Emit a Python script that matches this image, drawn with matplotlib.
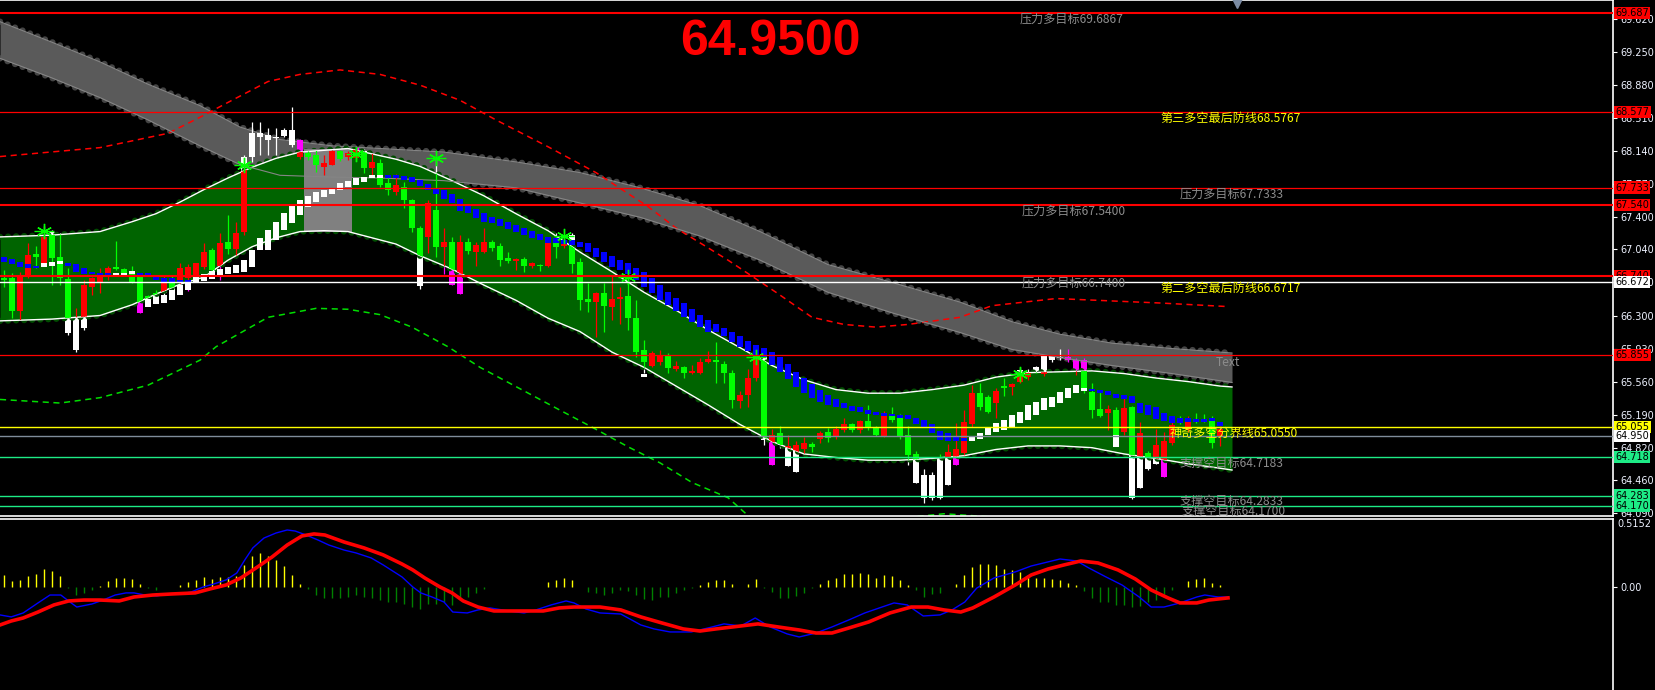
import matplotlib
matplotlib.use("Agg")
import matplotlib.pyplot as plt
import matplotlib.transforms as mtransforms
from matplotlib.patches import Rectangle
import numpy as np

plt.rcParams['font.family'] = ['Noto Sans CJK SC', 'DejaVu Sans']

# ---------------- price bars (index = bar number) ----------------
opens = [66.70, 66.35, 66.74, 66.98, 66.95, 67.18, 66.94, 66.72, 66.10, 66.27,
         66.64, 66.72, 66.78, 66.83, 66.82, 66.78, 66.68, 66.33, 66.47, 66.50,
         66.67, 66.56, 66.83, 66.84, 66.89, 67.01, 66.81, 67.11, 67.04, 67.22,
         68.07, 68.07, 68.34, 68.27, 68.29, 68.31, 68.38, 68.27, 68.07, 67.99,
         68.01, 68.14, 68.05, 68.12, 68.18, 67.95, 68.02, 67.76, 67.70, 67.76,
         67.59, 67.28, 66.63, 67.56, 67.07, 67.12, 66.64, 67.12, 67.02, 67.09,
         67.12, 67.06, 66.92, 66.91, 66.93, 66.85, 66.89, 66.85, 67.12, 67.07,
         67.10, 66.88, 66.47, 66.45, 66.55, 66.41, 66.49, 66.51, 66.27, 65.89,
         65.78, 65.88, 65.86, 65.71, 65.74, 65.66, 65.68, 65.78, 65.81, 65.78,
         65.66, 65.35, 65.41, 65.60, 65.83, 64.91, 64.96, 64.85, 64.84, 64.85,
         64.87, 64.83, 64.98, 64.93, 65.03, 65.09, 65.02, 65.12, 65.05, 64.96,
         65.21, 65.13, 64.94, 64.74, 64.43, 64.51, 64.26, 64.26, 64.77, 64.81,
         65.11, 65.43, 65.27, 65.22, 65.46, 65.49, 65.53, 65.69, 65.66, 65.68,
         65.85, 65.80, 65.82, 65.84, 65.80, 65.46, 65.24, 65.18, 65.25, 64.96,
         65.26, 64.26, 64.99, 64.58, 64.85, 64.89, 65.07, 65.10, 65.15, 65.12,
         65.12, 64.87, 65.03]
highs = [66.81, 66.78, 66.79, 67.11, 67.08, 67.30, 67.26, 67.22, 66.83, 66.38,
         66.70, 66.73, 66.83, 66.85, 67.13, 66.83, 66.86, 66.74, 66.53, 66.59,
         66.75, 66.75, 66.89, 66.88, 66.89, 67.11, 67.06, 67.22, 67.43, 67.35,
         68.10, 68.47, 68.47, 68.40, 68.40, 68.40, 68.63, 68.28, 68.16, 68.15,
         68.10, 68.15, 68.15, 68.14, 68.20, 68.16, 68.12, 68.05, 67.85, 67.89,
         67.80, 67.60, 67.30, 67.59, 68.06, 67.28, 67.18, 67.20, 67.17, 67.12,
         67.28, 67.14, 67.11, 67.01, 66.94, 66.95, 66.90, 66.88, 67.13, 67.22,
         67.18, 67.22, 66.94, 66.66, 66.56, 66.66, 66.75, 66.62, 66.75, 66.47,
         66.03, 65.90, 65.91, 65.88, 65.79, 65.74, 65.75, 65.82, 65.90, 66.00,
         65.79, 65.69, 65.46, 65.70, 65.92, 65.85, 65.03, 65.06, 64.96, 64.89,
         64.94, 64.88, 65.01, 65.04, 65.06, 65.15, 65.10, 65.13, 65.30, 65.06,
         65.23, 65.27, 65.20, 65.06, 64.78, 64.58, 64.55, 64.75, 64.86, 65.10,
         65.24, 65.52, 65.54, 65.41, 65.49, 65.60, 65.54, 65.71, 65.70, 65.74,
         65.86, 65.86, 65.92, 65.93, 65.82, 65.82, 65.54, 65.46, 65.30, 65.27,
         65.38, 65.29, 65.11, 64.78, 65.03, 65.00, 65.12, 65.17, 65.18, 65.21,
         65.20, 65.17, 65.06]
lows = [66.62, 66.27, 66.25, 66.72, 66.83, 66.86, 66.64, 66.64, 66.08, 65.89,
        66.14, 66.53, 66.55, 66.70, 66.81, 66.75, 66.66, 66.33, 66.46, 66.47,
        66.50, 66.55, 66.61, 66.58, 66.67, 66.82, 66.78, 66.70, 66.99, 66.94,
        67.20, 68.02, 68.10, 68.10, 68.10, 68.30, 68.19, 68.05, 68.04, 67.91,
        67.87, 67.99, 68.03, 68.04, 68.04, 67.90, 67.87, 67.74, 67.65, 67.65,
        67.50, 67.23, 66.60, 67.00, 66.95, 66.76, 66.64, 66.54, 66.99, 66.86,
        67.00, 67.02, 66.86, 66.89, 66.81, 66.79, 66.83, 66.80, 66.84, 66.94,
        67.06, 66.78, 66.36, 66.34, 66.06, 66.11, 66.25, 66.21, 66.14, 65.84,
        65.66, 65.72, 65.75, 65.66, 65.68, 65.60, 65.65, 65.65, 65.77, 65.54,
        65.54, 65.26, 65.26, 65.28, 65.57, 64.85, 64.63, 64.82, 64.62, 64.55,
        64.76, 64.77, 64.87, 64.88, 64.92, 65.00, 65.00, 64.99, 65.02, 64.95,
        64.94, 65.11, 64.92, 64.63, 64.43, 64.20, 64.23, 64.25, 64.40, 64.63,
        64.74, 65.05, 65.24, 65.21, 65.15, 65.40, 65.41, 65.54, 65.58, 65.66,
        65.62, 65.78, 65.80, 65.78, 65.63, 65.43, 65.15, 65.16, 65.02, 64.96,
        64.96, 64.25, 64.37, 64.57, 64.64, 64.49, 64.85, 65.08, 65.00, 65.10,
        65.11, 64.82, 64.84]
closes = [66.72, 66.72, 66.35, 66.73, 66.99, 66.89, 67.23, 66.95, 66.71, 65.91,
          66.16, 66.62, 66.66, 66.75, 66.84, 66.82, 66.80, 66.73, 66.52, 66.55,
          66.55, 66.72, 66.70, 66.72, 66.73, 66.84, 67.03, 66.86, 67.12, 67.04,
          67.23, 68.34, 68.30, 68.32, 68.30, 68.38, 68.21, 68.07, 68.12, 68.10,
          67.96, 67.99, 68.14, 68.07, 68.06, 68.14, 67.95, 68.01, 67.78, 67.68,
          67.74, 67.59, 67.28, 67.18, 67.48, 67.07, 67.12, 66.54, 67.12, 67.01,
          67.01, 67.12, 67.08, 66.94, 66.91, 66.93, 66.85, 66.87, 66.85, 67.11,
          67.08, 67.20, 66.90, 66.49, 66.45, 66.55, 66.39, 66.49, 66.52, 66.27,
          65.91, 65.73, 65.78, 65.85, 65.70, 65.72, 65.66, 65.66, 65.78, 65.80,
          65.76, 65.66, 65.34, 65.41, 65.60, 65.83, 64.63, 64.98, 64.62, 64.55,
          64.80, 64.86, 64.92, 65.00, 64.94, 65.02, 65.08, 65.02, 65.12, 65.04,
          64.94, 65.18, 65.15, 64.96, 64.75, 64.26, 64.51, 64.71, 64.40, 64.63,
          64.76, 65.09, 65.43, 65.39, 65.32, 65.51, 65.50, 65.56, 65.61, 65.72,
          65.64, 65.85, 65.84, 65.80, 65.69, 65.80, 65.44, 65.25, 65.21, 65.24,
          65.00, 65.28, 64.37, 64.76, 64.64, 64.49, 64.87, 65.14, 65.02, 65.14,
          65.14, 65.15, 64.95]
# bars whose part outside the channel is painted magenta (others white)
magenta_bars = [17, 23, 27, 29, 37, 38, 44, 55, 56, 57, 96, 119, 120, 133, 134, 135, 145]

# ---------------- channel (green) ----------------
band_x = [-0.5, 6, 12, 16, 19, 22, 25, 28, 31, 34, 37, 40, 43, 46, 49, 52, 56, 60, 64, 68,
          72, 76, 80, 84, 88, 92, 96, 100, 104, 108, 112, 116, 120, 124, 128, 132, 136, 140,
          144, 148, 152, 153.5]
band_up = [67.18, 67.20, 67.24, 67.35, 67.44, 67.57, 67.71, 67.84, 67.96, 68.06, 68.13, 68.15,
           68.17, 68.11, 68.05, 67.97, 67.81, 67.64, 67.44, 67.25, 67.01, 66.79, 66.56, 66.36,
           66.14, 65.94, 65.74, 65.58, 65.47, 65.43, 65.43, 65.47, 65.52, 65.61, 65.66, 65.67,
           65.68, 65.65, 65.60, 65.56, 65.51, 65.50]
band_dn = [66.24, 66.26, 66.30, 66.42, 66.54, 66.65, 66.73, 66.92, 67.07, 67.17, 67.24, 67.25,
           67.24, 67.17, 67.10, 66.97, 66.82, 66.64, 66.47, 66.27, 66.12, 65.89, 65.72, 65.51,
           65.30, 65.08, 64.89, 64.75, 64.71, 64.68, 64.68, 64.70, 64.73, 64.80, 64.84, 64.84,
           64.82, 64.75, 64.70, 64.64, 64.59, 64.57]

# ---------------- gray band ----------------
gray_x = [-0.5, 6, 12, 18, 24.5, 29.5, 34.5, 41, 47, 55, 64, 72, 79.5, 87, 94.5, 103, 111,
          119.5, 126, 132, 138.5, 146, 153.5]
gray_top = [69.59, 69.36, 69.14, 68.89, 68.65, 68.41, 68.27, 68.20, 68.17, 68.13, 68.02, 67.90,
            67.73, 67.53, 67.24, 66.87, 66.67, 66.45, 66.23, 66.09, 65.99, 65.93, 65.88]
gray_bot = [69.18, 68.96, 68.74, 68.49, 68.20, 67.99, 67.87, 67.85, 67.84, 67.81, 67.73, 67.56,
            67.40, 67.19, 66.92, 66.56, 66.33, 66.11, 65.92, 65.83, 65.74, 65.65, 65.55]

# ---------------- dashed envelopes ----------------
env_hi_x = [-0.5, 12, 20.5, 24.5, 28.5, 33, 37, 42, 47, 52, 57, 61.5, 68, 74, 80.5, 84, 90.5,
            96.5, 101, 105, 109, 113, 119.5, 123.5, 131.5, 144.5, 153]
env_hi = [68.08, 68.18, 68.34, 68.52, 68.71, 68.92, 69.00, 69.05, 69.00, 68.88, 68.71, 68.49,
          68.19, 67.90, 67.52, 67.28, 66.92, 66.56, 66.28, 66.20, 66.17, 66.20, 66.28, 66.41,
          66.49, 66.44, 66.40]
env_lo_x = [-0.5, 7, 12, 18, 24.5, 26.5, 33, 39, 43, 47, 51, 55.5, 59.5, 69.5, 73.5, 78, 82,
            86, 90.5, 93, 94.5, 105.5, 112, 117.5, 122.5, 131, 143, 153]
env_lo = [65.36, 65.32, 65.38, 65.52, 65.80, 65.95, 66.28, 66.38, 66.37, 66.31, 66.17, 65.95,
          65.72, 65.24, 65.05, 64.83, 64.65, 64.43, 64.26, 64.06, 63.99, 63.92, 64.03, 64.08,
          64.05, 64.01, 63.97, 63.95]

# ---------------- stop blocks ----------------
blue_idx = list(range(0, 5)) + list(range(8, 14)) + list(range(17, 24)) + \
    list(range(48, 121)) + list(range(136, 153))
blue_hi = [66.95, 66.93, 66.90, 66.88, 66.86,
           66.89, 66.88, 66.83, 66.79, 66.78, 66.78,
           66.78, 66.78, 66.73, 66.72, 66.72, 66.70, 66.70,
           67.87, 67.87, 67.86, 67.85, 67.82, 67.77, 67.73, 67.71, 67.66, 67.61,
           67.54, 67.49, 67.45, 67.40, 67.38, 67.35, 67.31, 67.28, 67.25, 67.21,
           67.18, 67.17, 67.15, 67.14, 67.12, 67.11, 67.06, 67.01, 66.97, 66.92,
           66.89, 66.83, 66.79, 66.72, 66.64, 66.56, 66.50, 66.44, 66.37, 66.31,
           66.25, 66.21, 66.16, 66.12, 66.07, 66.02, 65.97, 65.94, 65.89, 65.84,
           65.76, 65.67, 65.60, 65.53, 65.47, 65.41, 65.37, 65.32, 65.29, 65.27,
           65.24, 65.22, 65.21, 65.20, 65.19, 65.19, 65.15, 65.13, 65.08, 65.01,
           64.99, 64.94, 64.93,
           65.48, 65.47, 65.46, 65.42, 65.41, 65.40, 65.32, 65.30, 65.27, 65.21,
           65.18, 65.15, 65.15, 65.14, 65.14, 65.15, 65.11]
blue_lo = [66.90, 66.88, 66.84, 66.83, 66.83,
           66.86, 66.79, 66.76, 66.76, 66.73, 66.74,
           66.73, 66.73, 66.70, 66.68, 66.68, 66.67, 66.67,
           67.84, 67.84, 67.82, 67.79, 67.75, 67.70, 67.66, 67.61, 67.56, 67.47,
           67.45, 67.39, 67.35, 67.34, 67.30, 67.27, 67.24, 67.20, 67.17, 67.14,
           67.11, 67.11, 67.10, 67.09, 67.07, 67.01, 66.96, 66.90, 66.84, 66.81,
           66.77, 66.70, 66.62, 66.55, 66.47, 66.42, 66.35, 66.28, 66.23, 66.17,
           66.12, 66.11, 66.07, 66.00, 65.95, 65.90, 65.86, 65.84, 65.75, 65.67,
           65.59, 65.50, 65.43, 65.38, 65.33, 65.30, 65.28, 65.26, 65.23, 65.22,
           65.20, 65.19, 65.18, 65.17, 65.15, 65.14, 65.09, 65.04, 64.98, 64.91,
           64.89, 64.89, 64.90,
           65.45, 65.43, 65.41, 65.38, 65.36, 65.32, 65.21, 65.19, 65.14, 65.12,
           65.10, 65.10, 65.11, 65.11, 65.11, 65.12, 65.06]

white_idx = [5, 6, 7, 14, 15, 16] + list(range(18, 48)) + [80] + list(range(121, 136)) + [139]
white_hi = [66.89, 66.90, 66.91, 66.78, 66.78, 66.80,
            66.49, 66.51, 66.53, 66.59, 66.64, 66.68, 66.73, 66.76, 66.80, 66.82,
            66.84, 66.87, 66.92, 67.03, 67.17, 67.26, 67.35, 67.45, 67.54, 67.59,
            67.64, 67.68, 67.71, 67.73, 67.78, 67.81, 67.84, 67.85, 67.87, 67.87,
            65.65,
            64.95, 64.98, 65.04, 65.10, 65.13, 65.19, 65.22, 65.30, 65.33, 65.38,
            65.39, 65.44, 65.49, 65.52, 65.49,
            64.96]
white_lo = [66.84, 66.86, 66.88, 66.74, 66.74, 66.77,
            66.40, 66.43, 66.44, 66.47, 66.53, 66.59, 66.67, 66.69, 66.71, 66.73,
            66.76, 66.78, 66.79, 66.84, 67.03, 67.03, 67.15, 67.26, 67.34, 67.43,
            67.52, 67.57, 67.63, 67.66, 67.70, 67.74, 67.76, 67.80, 67.84, 67.84,
            65.61,
            64.90, 64.92, 64.96, 65.00, 65.02, 65.05, 65.10, 65.13, 65.19, 65.24,
            65.27, 65.32, 65.38, 65.43, 65.45,
            64.83]

star_idx = [5, 30, 44, 54, 70, 78, 94, 127]
star_y = [67.25, 67.99, 68.11, 68.06, 67.19, 66.73, 65.83, 65.64]

# ---------------- horizontal levels ----------------
level_vals = [69.687, 68.577, 67.733, 67.540, 66.740, 66.672, 65.855, 65.055, 64.950, 64.718, 64.283, 64.170]
level_cols = ['#FF0000', '#FF0000', '#FF0000', '#FF0000', '#FF0000', '#FFFFFF', '#FF0000',
              '#FFFF00', '#7F8C9A', '#1DEB86', '#1DEB86', '#1DEB86']
level_lw = [1.5, 0.9, 0.9, 1.5, 1.5, 1.0, 0.9, 1.0, 1.0, 1.0, 1.0, 1.0]
box_cols = ['#FF0000', '#FF0000', '#FF0000', '#FF0000', '#FF0000', '#FFFFFF', '#FF0000',
            '#FFFF00', '#FFFFFF', '#1DEB86', '#1DEB86', '#1DEB86']
price_ticks = [69.62, 69.25, 68.88, 68.51, 68.14, 67.77, 67.40, 67.04, 66.67, 66.30,
               65.93, 65.56, 65.19, 64.82, 64.46, 64.09]

notes = ['压力多目标69.6867', '第三多空最后防线68.5767', '压力多目标67.7333', '压力多目标67.5400',
         '压力多目标66.7400', '第二多空最后防线66.6717', 'Text', '神奇多空分界线65.0550',
         '支撑空目标64.7183', '支撑空目标64.2833', '支撑空目标64.1700']
note_x = [126.9, 144.5, 146.9, 127.25, 127.25, 144.5, 151.5, 145.75, 146.9, 146.9, 147.25]
note_y = [69.615, 68.512, 67.661, 67.471, 66.665, 66.598, 65.77, 64.986, 64.639, 64.213, 64.101]
note_cols = ['#8C8C8C', '#FFFF00', '#8C8C8C', '#8C8C8C', '#8C8C8C', '#FFFF00', '#8C8C8C',
             '#FFFF00', '#8C8C8C', '#8C8C8C', '#8C8C8C']

# ---------------- MACD ----------------
hist = [0.089, 0.046, 0.051, 0.081, 0.096, 0.134, 0.119, 0.081, -0.008, -0.063,
        -0.045, -0.025, 0.008, 0.043, 0.066, 0.066, 0.058, 0.020, -0.005, -0.020,
        -0.003, -0.003, 0.013, 0.035, 0.051, 0.073, 0.058, 0.073, 0.073, 0.083,
        0.164, 0.232, 0.255, 0.232, 0.202, 0.157, 0.089, 0.020, -0.018, -0.063,
        -0.081, -0.081, -0.081, -0.076, -0.063, -0.076, -0.081, -0.101, -0.114, -0.114,
        -0.126, -0.152, -0.169, -0.126, -0.126, -0.114, -0.139, -0.083, -0.076, -0.045,
        -0.015, 0.0, 0.0, 0.0, 0.0, -0.003, 0.0, 0.0, 0.035, 0.051,
        0.071, 0.051, 0.0, -0.038, -0.045, -0.063, -0.045, -0.025, -0.033, -0.063,
        -0.088, -0.096, -0.076, -0.076, -0.045, -0.020, -0.005, 0.013, 0.035, 0.051,
        0.051, 0.020, 0.003, 0.020, 0.058, -0.005, -0.038, -0.081, -0.081, -0.071,
        -0.045, -0.005, 0.025, 0.051, 0.071, 0.096, 0.101, 0.106, 0.096, 0.071,
        0.089, 0.081, 0.056, 0.013, -0.020, -0.076, -0.050, -0.045, -0.003, 0.025,
        0.089, 0.152, 0.177, 0.172, 0.164, 0.139, 0.126, 0.114, 0.089, 0.071,
        0.071, 0.063, 0.051, 0.030, 0.013, -0.030, -0.081, -0.114, -0.114, -0.139,
        -0.139, -0.152, -0.146, -0.114, -0.101, -0.050, -0.020, 0.003, 0.045, 0.058,
        0.068, 0.030, 0.013]

macd_x = [-0.5, 0.9, 2.4, 4.25, 5.75, 7.1, 8.4, 9.1, 11, 12.4,
          13.9, 15.25, 16.25, 17.6, 19.1, 20.5, 22, 23.4, 24.9, 26.25,
          27.75, 29.1, 30.1, 31.1, 32.5, 34, 35.4, 36.4, 37.75, 39.25,
          40.6, 42.5, 44, 45.9, 47.4, 49.75, 51.1, 52.1, 53.5, 55,
          56.1, 57.9, 59.25, 60.75, 63.1, 65, 66.5, 68.4, 70.25, 71.25,
          72.75, 74.5, 77.1, 79.6, 81.25, 83.25, 85.9, 88, 90, 92.1,
          93.9, 95.75, 97.9, 99.4, 101.5, 103.5, 105.6, 107.6, 109.75, 111.25,
          112.9, 114.9, 117, 118.5, 120.1, 121.6, 123.75, 126.4, 128.4, 130.5,
          132, 134.1, 135.6, 137.75, 139.75, 141.9, 143.4, 145, 147, 149.1,
          150.1, 151.75, 153]
macd_main = [-0.212, -0.227, -0.197, -0.121, -0.061, -0.061, -0.121, -0.152, -0.129, -0.099,
             -0.061, -0.045, -0.045, -0.061, -0.068, -0.053, -0.053, -0.038, 0.0, 0.023,
             0.053, 0.106, 0.205, 0.296, 0.371, 0.409, 0.432, 0.424, 0.394, 0.356,
             0.318, 0.280, 0.258, 0.220, 0.167, 0.076, 0.0, -0.045, -0.076, -0.114,
             -0.190, -0.197, -0.174, -0.159, -0.182, -0.197, -0.174, -0.136, -0.106, -0.121,
             -0.167, -0.197, -0.205, -0.288, -0.318, -0.341, -0.341, -0.311, -0.280, -0.296,
             -0.235, -0.303, -0.356, -0.379, -0.349, -0.303, -0.250, -0.197, -0.152, -0.121,
             -0.136, -0.220, -0.212, -0.174, -0.114, -0.008, 0.068, 0.114, 0.159, 0.190,
             0.212, 0.197, 0.144, 0.076, 0.015, -0.076, -0.152, -0.152, -0.121, -0.076,
             -0.061, -0.076, -0.076]
sig_x = [-0.5, 0.9, 2.4, 4.25, 6.25, 8.1, 10, 12, 14.4, 16.25,
         18.6, 21, 23.9, 25.75, 27.75, 29.6, 31.5, 33.5, 35.4, 37.25,
         38.75, 40.1, 42.5, 45, 47.4, 49.75, 51.1, 52.6, 54.5, 56,
         57.4, 59.25, 61.25, 64.1, 67.4, 69.4, 71.25, 74.5, 77.1, 79.6,
         82.25, 84.9, 87, 89, 91.1, 94.25, 96.75, 99.4, 101.5, 103.5,
         105.6, 108.1, 110.75, 113.4, 115.5, 117.5, 119.6, 121.1, 123.75, 126.4,
         128.4, 130.5, 132.5, 134.6, 136.75, 139.25, 141.4, 143.4, 145.5, 147,
         149.1, 150.6, 153]
macd_signal = [-0.288, -0.258, -0.235, -0.190, -0.136, -0.106, -0.099, -0.099, -0.106, -0.076,
               -0.061, -0.053, -0.045, -0.015, 0.015, 0.068, 0.144, 0.227, 0.318, 0.387,
               0.402, 0.394, 0.341, 0.296, 0.243, 0.174, 0.129, 0.068, 0.0, -0.045,
               -0.106, -0.152, -0.182, -0.182, -0.182, -0.159, -0.152, -0.152, -0.174, -0.227,
               -0.273, -0.318, -0.334, -0.318, -0.303, -0.280, -0.303, -0.326, -0.349, -0.349,
               -0.311, -0.265, -0.197, -0.152, -0.152, -0.174, -0.190, -0.159, -0.076, 0.015,
               0.091, 0.136, 0.167, 0.197, 0.182, 0.129, 0.061, -0.023, -0.083, -0.121,
               -0.121, -0.099, -0.083]

# =====================================================================
fig = plt.figure(figsize=(16.55, 6.90), dpi=100, facecolor='black')
ax = fig.add_axes([0, 174 / 690, 1613 / 1655, 516 / 690], facecolor='black')
axm = fig.add_axes([0, 0, 1613 / 1655, 171 / 690], facecolor='black', sharex=ax)
ax.set_xlim(-0.5, 201.125)
ax.set_ylim(64.055, 69.833)
axm.set_ylim(-0.781, 0.5152)


def scallops(a, x, y, color, z):
    a.plot(x, y, color=color, lw=4.6, ls=(0, (0.01, 1.25)), dash_capstyle='round', zorder=z)


# gray band
scallops(ax, gray_x, gray_top, '#444444', 1)
scallops(ax, gray_x, gray_bot, '#444444', 1)
ax.fill_between(gray_x, gray_bot, gray_top, color='#5A5A5A', lw=0, zorder=2)
ax.plot(gray_x, gray_top, color='#858585', lw=0.8, zorder=2.2)
ax.plot(gray_x, gray_bot, color='#858585', lw=0.8, zorder=5.2)

# envelopes
ax.plot(env_hi_x, env_hi, color='#FF0000', lw=1.1, ls=(0, (4, 3)), zorder=2.5)
ax.plot(env_lo_x, env_lo, color='#00DD00', lw=1.1, ls=(0, (4, 3)), zorder=2.5)

# candles: outside copy
idx = np.arange(len(opens))
o = np.array(opens)
c = np.array(closes)
h = np.array(highs)
l = np.array(lows)
body_lo = np.minimum(o, c)
body_h = np.maximum(np.abs(c - o), 0.013)
out_col = ['#FF00FF' if i in magenta_bars else '#FFFFFF' for i in idx]
ax.vlines(idx, l, h, colors=out_col, lw=0.9, zorder=3)
ax.bar(idx, body_h, bottom=body_lo, width=0.75, color=out_col, lw=0, zorder=3)

# green channel
scallops(ax, band_x, band_up, '#004C00', 3.5)
scallops(ax, band_x, band_dn, '#004C00', 3.5)
band_poly = ax.fill_between(band_x, band_dn, band_up, color='#006400', lw=0, zorder=4)
ax.add_patch(Rectangle((37.5, 67.24), 6, 0.92, fc='#808080', ec='none', zorder=4.5))
ax.plot(band_x, band_up, color='white', lw=1, zorder=5)
ax.plot(band_x, band_dn, color='white', lw=1, zorder=5)

# candles inside the channel
clip = band_poly.get_paths()[0]
col = np.where(c >= o, '#00FF00', '#FF0000')
wk = ax.vlines(idx, l, h, colors=col, lw=0.9, zorder=6)
wk.set_clip_path(clip, ax.transData)
bodies = ax.bar(idx, body_h, bottom=body_lo, width=0.75, color=col, lw=0, zorder=6)
for p in bodies:
    p.set_clip_path(clip, ax.transData)

# stop blocks
bh = np.array(blue_hi)
bl = np.array(blue_lo)
ax.bar(blue_idx, np.maximum(bh - bl, 0.03), bottom=bl, width=0.75, color='#0000FF', lw=0, zorder=7)
wh = np.array(white_hi)
wl = np.array(white_lo)
ax.bar(white_idx, np.maximum(wh - wl, 0.03), bottom=wl, width=0.75, color='#FFFFFF', lw=0, zorder=7)

# fractal stars
ax.plot(star_idx, star_y, ls='none', marker=(6, 2, 0), ms=11, mec='#00FF00', mew=1.0, zorder=7.5)
ax.plot(star_idx, star_y, ls='none', marker='_', ms=15, mec='#00FF00', mew=1.0, zorder=7.5)

# levels
for v, lc, lw in zip(level_vals, level_cols, level_lw):
    ax.axhline(v, color=lc, lw=lw, zorder=8)

for s, x, y, nc in zip(notes, note_x, note_y, note_cols):
    ax.text(x, y, s, color=nc, fontsize=8.7, ha='left', va='center', zorder=9)

ax.text(95.75, 69.36, '64.9500', color='#FF0000', fontsize=36, fontweight='bold',
        family='Liberation Sans', ha='center', va='center', zorder=9)
ax.plot([154.1], [69.80], marker='v', color='#7B8BA3', ms=7, ls='none', zorder=9, clip_on=False)

# price axis
ax.set_yticks(price_ticks)
ax.set_yticklabels([f'{t:.3f}' for t in price_ticks])
ax.tick_params(axis='y', left=False, right=True, labelleft=False, labelright=True,
               labelsize=7, labelcolor='#EEF2FF', color='white', length=3, width=0.8, pad=2,
               labelfontfamily='DejaVu Sans')
ax.tick_params(axis='x', bottom=False, labelbottom=False)
for s in ax.spines.values():
    s.set_color('white')
    s.set_linewidth(1.2)
ax.spines['left'].set_visible(False)

blend = mtransforms.blended_transform_factory(ax.transAxes, ax.transData)
for v, bc in zip(level_vals, box_cols):
    ax.text(1.0015, v, f'{v:.3f}', transform=blend, ha='left', va='center', fontsize=7,
            family='DejaVu Sans', color='black', zorder=20, clip_on=False,
            bbox=dict(boxstyle='square,pad=0.12', fc=bc, ec='none'))

# MACD panel
hist_a = np.array(hist)
axm.vlines(idx, 0, hist_a, colors=np.where(hist_a >= 0, '#FFFF00', '#008000'), lw=1.0)
axm.plot(macd_x, macd_main, color='#0000FF', lw=1.0)
axm.plot(sig_x, macd_signal, color='#FF0000', lw=2.6)
axm.set_yticks([0])
axm.set_yticklabels(['0.00'])
axm.tick_params(axis='y', left=False, right=True, labelleft=False, labelright=True,
                labelsize=7, labelcolor='#EEF2FF', color='white', length=3, width=0.8, pad=2,
                labelfontfamily='DejaVu Sans')
axm.tick_params(axis='x', bottom=False, labelbottom=False)
for s in axm.spines.values():
    s.set_color('white')
    s.set_linewidth(1.2)
axm.spines['left'].set_visible(False)
axm.spines['bottom'].set_visible(False)
blend_m = mtransforms.blended_transform_factory(axm.transAxes, axm.transData)
axm.text(1.003, 0.478, '0.5152', transform=blend_m, ha='left', va='center', fontsize=7,
         family='DejaVu Sans', color='#EEF2FF', clip_on=False)

fig.savefig('out.png', dpi=100, facecolor='black')
